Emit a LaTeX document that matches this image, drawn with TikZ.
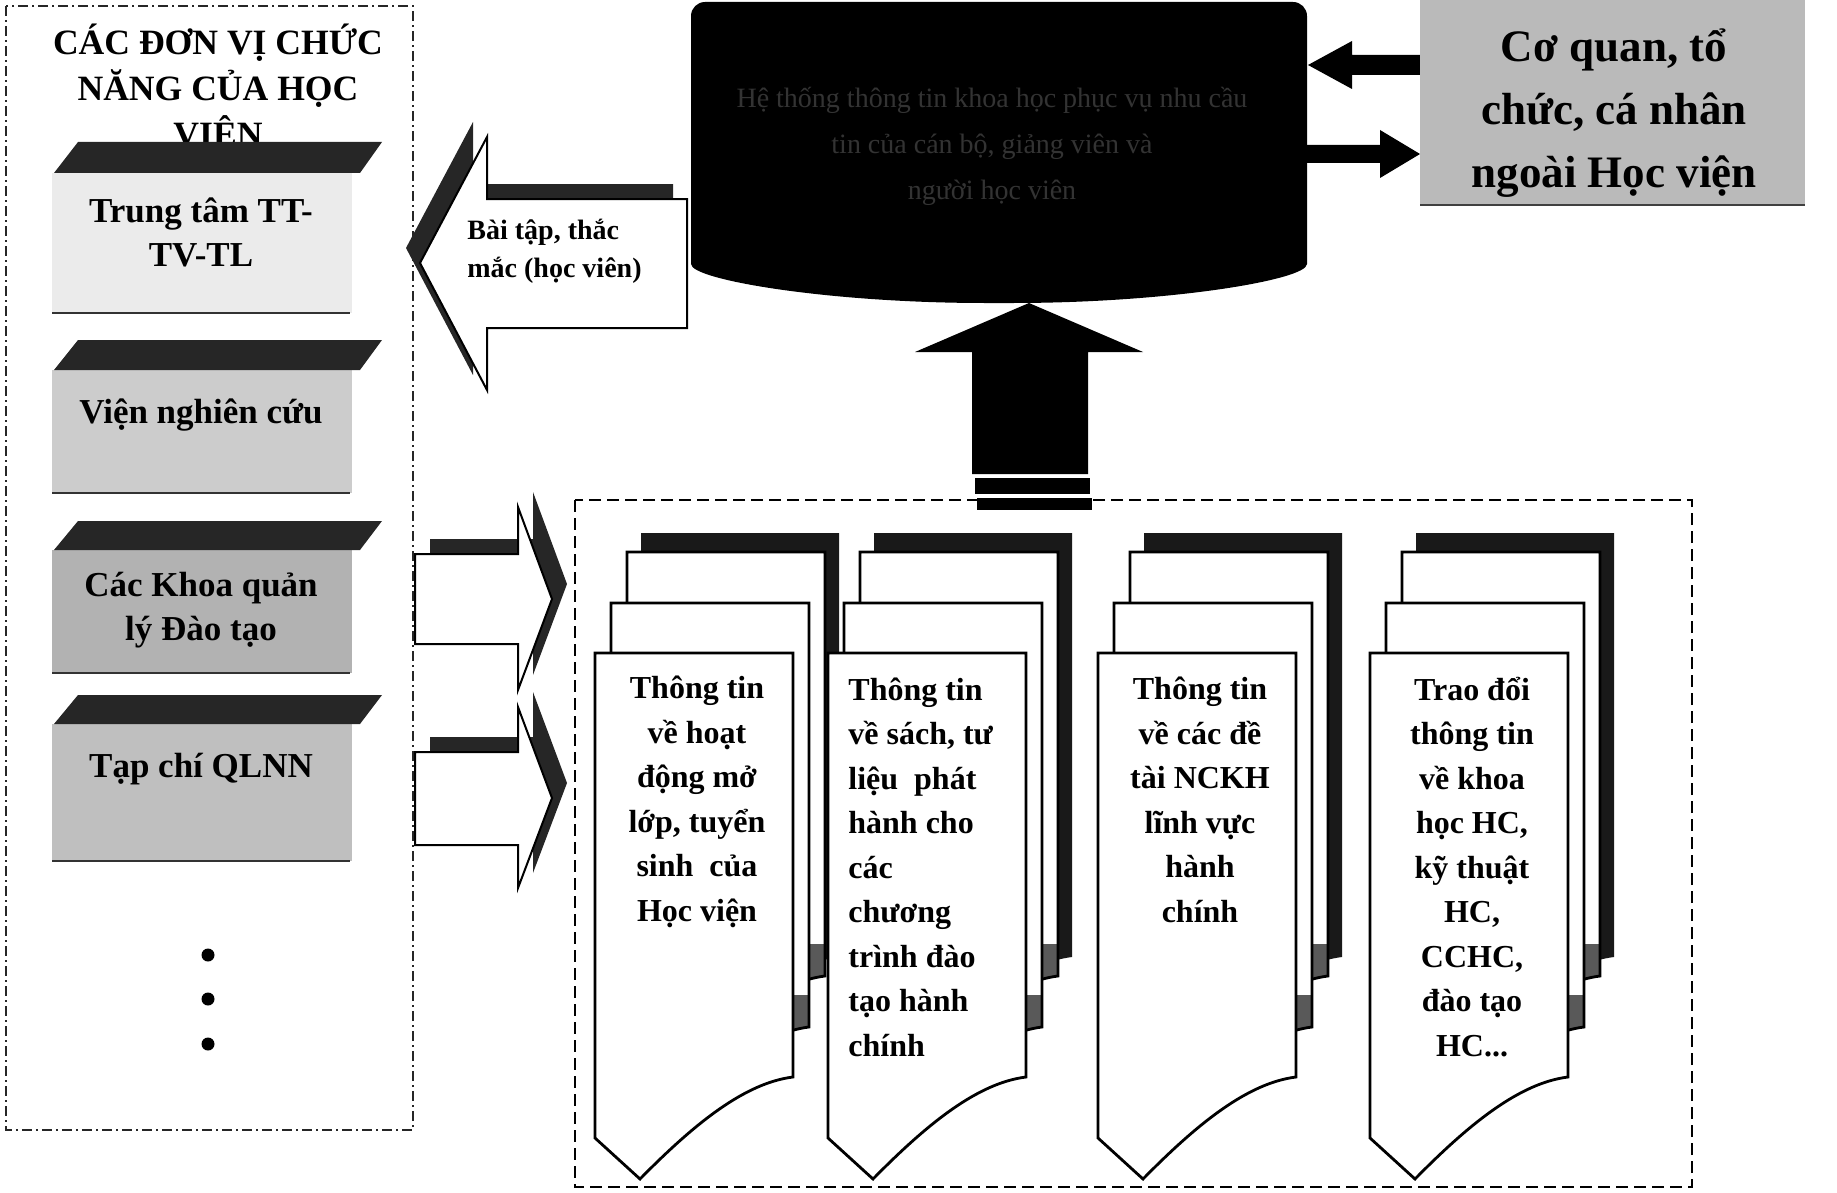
\documentclass[tikz,border=0pt]{standalone}
\usepackage{fontspec}
\setmainfont{Liberation Serif}
\tikzset{
  dashdotbox/.style={draw=black!85, line width=1pt, dash pattern=on 5pt off 2pt on 1pt off 2pt},
  dashbox/.style={draw=black, line width=1.3pt, dash pattern=on 6pt off 3pt},
  labeltext/.style={font=\bfseries\fontsize{17.5}{22}\selectfont, align=center, inner sep=0pt},
  pagetext/.style={font=\bfseries\fontsize{16}{22.25}\selectfont, align=center, inner sep=0pt},
  arrowwhite/.style={fill=white, draw=black, line width=1pt, line join=miter},
  arrowshade/.style={fill=black!85},
  solidarrow/.style={fill=black},
  pageoutline/.style={fill=white, draw=black, line width=1.4pt},
}
\newcommand{\mkslab}[4]{%
  \fill[#4] (52,#2) rectangle (352,#3);
  \fill[black!85] (54,#2) -- (360,#2) -- (382,#1) -- (78,#1) -- cycle;
  \draw[black!80, line width=1pt] (52,#3) -- (350,#3);}
\newcommand{\docshape}[3]{\path[#3, shift={(#1,#2)}] (0,0) -- (198,0) -- (198,424) .. controls (150,430) and (100,470) .. (45,526) -- (0,485) -- cycle;}
\newcommand{\docpatch}[2]{\begin{scope}[shift={(#1,#2)}]\clip (0,0) -- (198,0) -- (198,424) .. controls (150,430) and (100,470) .. (45,526) -- (0,485) -- cycle;\fill[black!65] (182,392) rectangle (200,480);\end{scope}}
\newcommand{\docgroup}[1]{%
  \docshape{#1+46}{533}{fill=black!90}
  \docshape{#1+32}{552}{fill=white}
  \docpatch{#1+32}{552}
  \docshape{#1+32}{552}{draw=black, line width=1.4pt}
  \docshape{#1+16}{603}{fill=white}
  \docpatch{#1+16}{603}
  \docshape{#1+16}{603}{draw=black, line width=1.4pt}
  \docshape{#1}{653}{pageoutline}}
\begin{document}
\begin{tikzpicture}[x=0.5pt,y=-0.5pt]
\useasboundingbox (0,0) rectangle (1837,1193);
% frames
\path[dashdotbox] (6,6) rectangle (413,1130);
\path[dashbox] (575,500) rectangle (1692,1187);
% title
\node[font=\bfseries\fontsize{17.8}{23}\selectfont, align=center, inner sep=0pt] (title) at (218,89) {CÁC ĐƠN VỊ CHỨC\\NĂNG CỦA HỌC\\VIỆN};
% slabs
\mkslab{142}{173}{313}{black!8}
\node[labeltext] (lab1) at (201,232) {Trung tâm TT-\\TV-TL};
\mkslab{340}{370}{493}{black!20}
\node[labeltext] (lab2) at (201,415) {Viện nghiên cứu};
\mkslab{521}{550}{673}{black!30}
\node[labeltext] (lab3) at (201,610) {Các Khoa quản\\lý Đào tạo};
\mkslab{695}{724}{861}{black!25}
\node[labeltext] (lab4) at (201,769) {Tạp chí QLNN};
% dots
\node[circle, fill=black, inner sep=0pt, minimum size=6.5pt] (d1) at (208,955) {};
\node[circle, fill=black, inner sep=0pt, minimum size=6.5pt] (d2) at (208,999) {};
\node[circle, fill=black, inner sep=0pt, minimum size=6.5pt] (d3) at (208,1044) {};
% cylinder
\fill[black, rounded corners=7pt] (691,250) -- (691,2) -- (1307,2) -- (1307,250) .. controls (1307,280) and (1168,303) .. (999,303) .. controls (830,303) and (691,280) .. (691,250) -- cycle;
\node[font=\fontsize{14}{23}\selectfont, text=black!80, align=center, inner sep=0pt] (cyl) at (992,146) {Hệ thống thông tin khoa học phục vụ nhu cầu\\tin của cán bộ, giảng viên và\\người học viên};
% left arrow
\fill[arrowshade] (406,248) -- (473,122) -- (473,184) -- (673,184) -- (673,313) -- (473,313) -- (473,375) -- cycle;
\path[arrowwhite] (420,263) -- (487,137) -- (487,199) -- (687,199) -- (687,328) -- (487,328) -- (487,390) -- cycle;
\node[font=\bfseries\fontsize{14}{19}\selectfont, align=left, anchor=west, inner sep=0pt] (bt) at (467,251) {Bài tập, thắc\\mắc (học viên)};
% right arrows
\fill[arrowshade] (430,539) -- (533,539) -- (533,492) -- (567,584) -- (533,675) -- (533,629) -- (430,629) -- cycle;
\path[arrowwhite] (415,554) -- (518,554) -- (518,507) -- (552,599) -- (518,690) -- (518,644) -- (415,644) -- cycle;
\fill[arrowshade] (430,737) -- (533,737) -- (533,692) -- (567,783) -- (533,873) -- (533,830) -- (430,830) -- cycle;
\path[arrowwhite] (415,752) -- (518,752) -- (518,707) -- (552,798) -- (518,888) -- (518,845) -- (415,845) -- cycle;
% up arrow
\fill[solidarrow] (1029,303) -- (1143,352) -- (1088,352) -- (1088,474) -- (972,474) -- (972,352) -- (915,352) -- cycle;
\fill[solidarrow] (975,478) rectangle (1090,494);
\fill[solidarrow] (977,498) rectangle (1092,510);
% two-way arrows
\fill[solidarrow] (1308,65) -- (1352,41) -- (1352,55) -- (1420,55) -- (1420,75) -- (1352,75) -- (1352,89) -- cycle;
\fill[solidarrow] (1420,154) -- (1380,130) -- (1380,145) -- (1307,145) -- (1307,163) -- (1380,163) -- (1380,178) -- cycle;
% outside box
\fill[black!27] (1420,-2) rectangle (1805,205);
\draw[black!75, line width=1pt] (1420,205) -- (1805,205);
\node[font=\bfseries\fontsize{22.5}{31.5}\selectfont, align=center, inner sep=0pt] (ext) at (1614,113) {Cơ quan, tổ\\chức, cá nhân\\ngoài Học viện};
% documents
\docgroup{595}
\node[pagetext] (t1) at (697,802) {Thông tin\\về hoạt\\động mở\\lớp, tuyển\\sinh\ \ của\\Học viện};
\docgroup{828}
\node[pagetext, align=left, anchor=west] (t2) at (848,867) {Thông tin\\về sách, tư\\liệu\ \ phát\\hành cho\\các\\chương\\trình đào\\tạo hành\\chính};
\docgroup{1098}
\node[pagetext] (t3) at (1200,800) {Thông tin\\về các đề\\tài NCKH\\lĩnh vực\\hành\\chính};
\docgroup{1370}
\node[pagetext] (t4) at (1472,867) {Trao đổi\\thông tin\\về khoa\\học HC,\\kỹ thuật\\HC,\\CCHC,\\đào tạo\\HC...};
\end{tikzpicture}
\end{document}
